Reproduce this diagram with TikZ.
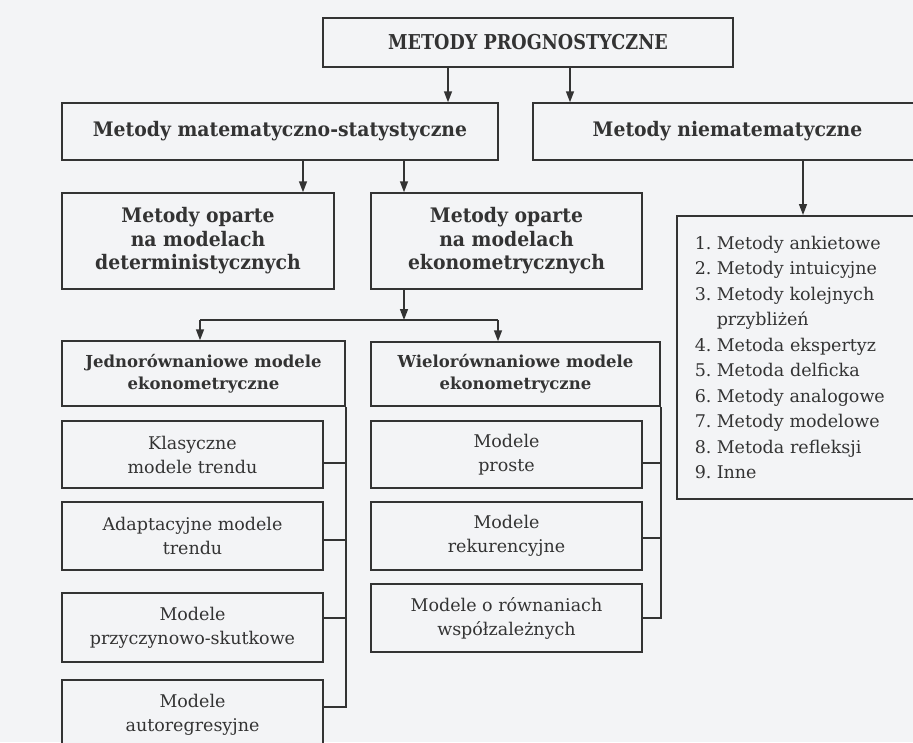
\documentclass[tikz,border=0pt]{standalone}
\usepackage{fontspec}
\setmainfont{DejaVu Serif}
\newfontfamily\headfam[FakeStretch=0.94]{DejaVu Serif}
\newfontfamily\titlefam[FakeStretch=0.86]{DejaVu Serif}
\usetikzlibrary{arrows.meta}
\definecolor{ink}{HTML}{333333}
\definecolor{paper}{HTML}{F3F4F6}
\newcommand{\titlef}{\titlefam\fontsize{20.5}{22}\selectfont\bfseries}
\newcommand{\headf}{\headfam\fontsize{20}{23.5}\selectfont\bfseries}
\newcommand{\subheadf}{\fontsize{16.5}{22}\selectfont\bfseries}
\newcommand{\regf}{\fontsize{17.5}{24}\selectfont}
\newcommand{\listf}{\fontsize{17.5}{25.5}\selectfont}
\newcommand{\num}[1]{\makebox[22pt][l]{#1}}
\begin{document}
\begin{tikzpicture}[x=1pt,y=-1pt,
  box/.style={draw=ink, line width=1.5pt, fill=paper, text=ink, align=center, inner sep=0pt},
  ln/.style={draw=ink, line width=1.5pt},
  arr/.style={draw=ink, line width=1.5pt, -{Triangle[length=11pt,width=8pt]}}]
\useasboundingbox (0,0) rectangle (913,742);
\clip (0,0) rectangle (913,742);
\fill[paper] (0,0) rectangle (913,742);

% x positions of connectors
\coordinate (xA) at (448,0);
\coordinate (xB) at (570,0);
\coordinate (xC) at (303,0);
\coordinate (xD) at (404,0);
\coordinate (xE) at (803,0);
\coordinate (busL) at (200,320);
\coordinate (busR) at (498,320);

\node[box, minimum width=410pt, minimum height=49pt, font=\titlef] (top) at (528,42.5) {METODY PROGNOSTYCZNE};
\node[box, minimum width=436pt, minimum height=57pt, font=\headf] (mat) at (280,131.5) {Metody matematyczno-statystyczne};
\node[box, minimum width=389pt, minimum height=57pt, font=\headf] (niemat) at (727.5,131.5) {Metody niematematyczne};
\node[box, minimum width=272pt, minimum height=96pt, font=\headf] (det) at (198,241) {Metody oparte\\na modelach\\deterministycznych};
\node[box, minimum width=271pt, minimum height=96pt, font=\headf] (eko) at (506.5,241) {Metody oparte\\na modelach\\ekonometrycznych};
\node[box, anchor=north west, minimum width=250pt, minimum height=283pt, text width=214pt, align=left, font=\listf] (list) at (676,215) {%
\num{1.}Metody ankietowe\\
\num{2.}Metody intuicyjne\\
\num{3.}Metody kolejnych\\
\num{}przybliżeń\\
\num{4.}Metoda ekspertyz\\
\num{5.}Metoda delficka\\
\num{6.}Metody analogowe\\
\num{7.}Metody modelowe\\
\num{8.}Metoda refleksji\\
\num{9.}Inne};

\node[box, minimum width=283pt, minimum height=65pt, font=\subheadf] (jed) at (203.5,373.5) {Jednorównaniowe modele\\ekonometryczne};
\node[box, minimum width=289pt, minimum height=64pt, font=\subheadf] (wiel) at (515.5,374) {Wielorównaniowe modele\\ekonometryczne};

\node[box, minimum width=261pt, minimum height=67pt, font=\regf] (klas) at (192.5,454.5) {Klasyczne\\modele trendu};
\node[box, minimum width=261pt, minimum height=68pt, font=\regf] (adap) at (192.5,536) {Adaptacyjne modele\\trendu};
\node[box, minimum width=261pt, minimum height=69pt, font=\regf] (przy) at (192.5,627.5) {Modele\\przyczynowo-skutkowe};
\node[box, minimum width=261pt, minimum height=70pt, font=\regf] (auto) at (192.5,715) {Modele\\autoregresyjne};

\node[box, minimum width=271pt, minimum height=67pt, font=\regf] (prost) at (506.5,454.5) {Modele\\proste};
\node[box, minimum width=271pt, minimum height=68pt, font=\regf] (reku) at (506.5,536) {Modele\\rekurencyjne};
\node[box, minimum width=271pt, minimum height=68pt, font=\regf] (wspol) at (506.5,618) {Modele o równaniach\\współzależnych};

% arrows
\draw[arr] (top.south -| xA) -- (mat.north -| xA);
\draw[arr] (top.south -| xB) -- (niemat.north -| xB);
\draw[arr] (mat.south -| xC) -- (det.north -| xC);
\draw[arr] (mat.south -| xD) -- (eko.north -| xD);
\draw[arr] (niemat.south -| xE) -- (list.north -| xE);
\draw[arr] (eko.south -| xD) -- (busL -| xD);
\draw[ln] (busL) -- (busR);
\draw[arr] (busL) -- (jed.north -| busL);
\draw[arr] (busR) -- (wiel.north -| busR);

% left bus
\draw[ln] ([yshift=8pt]auto.east) -| (jed.south east);
\draw[ln] ([yshift=-8.5pt]klas.east) -- ([yshift=-8.5pt]klas.east -| jed.east);
\draw[ln] ([yshift=-4pt]adap.east) -- ([yshift=-4pt]adap.east -| jed.east);
\draw[ln] ([yshift=9.5pt]przy.east) -- ([yshift=9.5pt]przy.east -| jed.east);

% right bus
\draw[ln] (wspol.east) -| (wiel.south east);
\draw[ln] ([yshift=-8.5pt]prost.east) -- ([yshift=-8.5pt]prost.east -| wiel.east);
\draw[ln] ([yshift=-2pt]reku.east) -- ([yshift=-2pt]reku.east -| wiel.east);
\end{tikzpicture}
\end{document}
